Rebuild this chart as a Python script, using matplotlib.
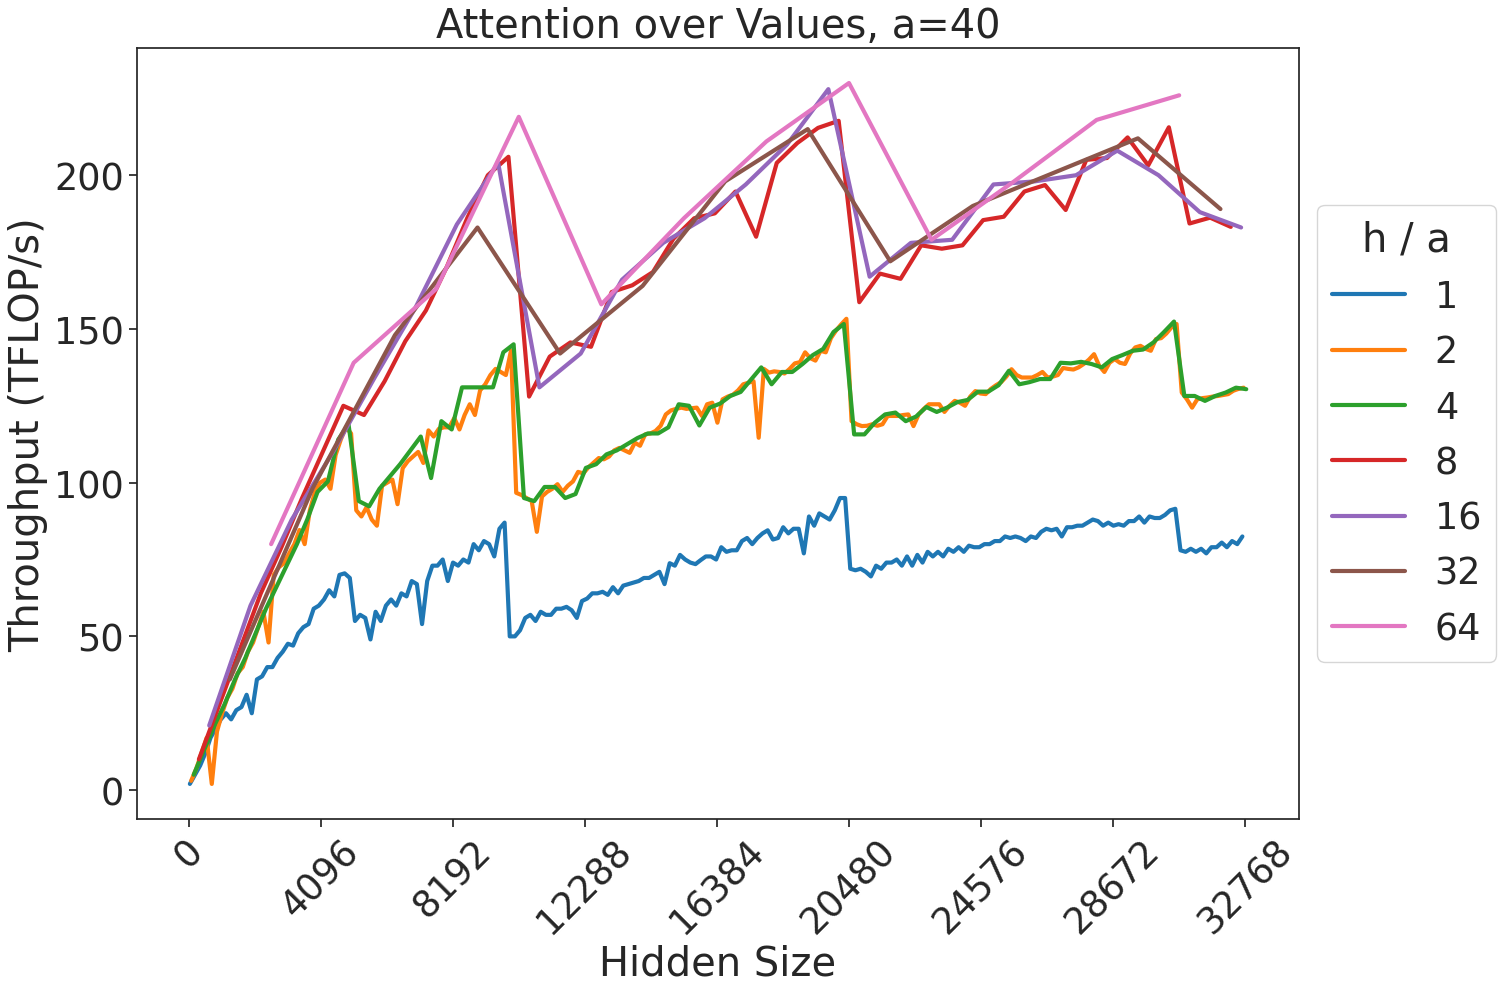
import numpy as np
import matplotlib
matplotlib.use("Agg")
import matplotlib.pyplot as plt
import seaborn as sns

# ---------------------------------------------------------------- data
# hidden sizes per series (h / a = odd multiple of the series value, a = 40)
h1 = np.arange(40, 32768, 160)      # every second point of the dense series
h2 = np.arange(80, 32768, 160)
h4 = np.arange(160, 32801, 320)
h8 = np.arange(320, 32801, 640)
h16 = np.arange(640, 32801, 1280)
h32 = np.arange(1280, 32801, 2560)
h64 = np.arange(2560, 32801, 2560)

# throughput in TFLOP/s
tp1 = [2, 5, 8, 12, 17, 20, 23, 25, 23, 26,
       27, 31, 25, 36, 37, 40, 40, 43, 45, 47.6,
       47, 51, 53, 54, 59, 60, 62, 65, 63, 70,
       70.5, 69, 55, 57, 56, 49, 58, 55, 60, 62,
       60, 64, 63, 68, 67, 54, 68, 73, 73, 75,
       68, 74, 73, 75, 74, 80, 78, 81, 80, 76,
       85, 87, 50, 50, 52, 56, 57, 55, 58, 57,
       57, 59, 59, 59.6, 58.5, 56, 61.5, 62.3, 64, 64,
       64.5, 63.5, 66, 64, 66.5, 67, 67.5, 68, 69, 69,
       70, 71, 67, 73.8, 73, 76.5, 75, 74, 73.5, 74.8,
       76, 76, 75, 79, 77.5, 78, 78, 81, 82, 80,
       82, 83.5, 84.5, 81.5, 82, 85.5, 83.5, 85, 85, 77,
       89, 86, 90, 89, 88, 91, 95, 95, 72, 71.5,
       72, 71, 69.5, 73, 72, 74, 74, 75, 73, 76,
       73, 76.5, 74, 77.5, 76, 77.5, 76, 78.5, 77.5, 79,
       77.5, 79.5, 79, 79, 80, 80, 81, 81, 82.5, 82,
       82.5, 82, 81, 82.5, 82, 84, 85, 84.5, 85, 82.5,
       85.5, 85.5, 86, 86, 87, 88, 87.5, 86, 87, 86,
       86.5, 86, 87.5, 87.5, 89, 87, 89, 88.5, 88.5, 89.5,
       91, 91.5, 78, 77.5, 78.5, 77.5, 78.5, 77, 79, 79,
       80.5, 79, 81, 80, 82.5]

tp2 = [3, 7, 12, 17, 2, 19, 25, 30, 33, 38,
       40, 45, 48, 53, 58, 48, 70, 72.5, 73.8, 77,
       80, 84.6, 80, 91, 97, 100, 101, 98, 109, 114,
       118, 116, 91, 89, 92, 88, 86, 99, 100, 101,
       93, 104.7, 107, 108.5, 110, 106.4, 117, 115, 117.5, 118,
       118, 121, 117.3, 122, 125.5, 122, 130, 132, 135, 137,
       136, 135, 143, 96.7, 96, 95, 94, 84, 95.5, 97,
       98, 99.5, 97, 99, 100.4, 103.5, 103, 105, 106.5, 108,
       107.6, 108.5, 110.5, 111.3, 110.5, 109.7, 113, 112, 115.7, 116,
       116.8, 118.5, 122.2, 123.5, 124, 124.4, 124, 124.2, 124.4, 121.7,
       125.5, 126, 119.5, 127.1, 128, 128.6, 130, 132, 132.5, 133,
       114.6, 137, 135.8, 136.2, 136, 135.5, 137, 138.8, 139.2, 142.4,
       140.5, 139.7, 142.9, 142.4, 147, 149.5, 151.5, 153.3, 120, 119,
       118.4, 118.5, 119, 118.5, 119, 121.7, 121.7, 121.7, 122, 122.2,
       118.4, 122.2, 124, 125.5, 125.5, 125.5, 123, 125, 126.6, 126,
       125, 128, 129.8, 129, 128.8, 130.5, 131.7, 132.7, 134.5, 136.9,
       135, 134.2, 134.2, 134.2, 135, 136, 134.2, 134.5, 135, 137.3,
       137, 136.8, 137.5, 138.6, 140, 141.8, 138, 136, 139, 140.2,
       139, 138.6, 142, 144, 144.5, 143.5, 142.9, 146.7, 147, 148.5,
       150.5, 151.6, 129.3, 127.1, 124.4, 127.1, 127.5, 127.7, 128, 128.2,
       128.5, 128.8, 129.9, 130.5, 130.9]

tp4 = [5, 13, 21, 28, 36, 43, 51, 59, 66, 73,
       80, 88, 97, 100.4, 114, 119, 94, 92.3, 98, 102,
       106, 110.5, 115, 101.5, 120, 117.3, 131, 131, 131, 131,
       142.4, 145, 95, 94, 98.6, 98.6, 95, 96.3, 104.8, 106,
       109.2, 110.5, 112.5, 114.5, 116, 116, 118, 125.5, 125, 118.6,
       124.4, 125.7, 128.2, 129.5, 133.5, 137.5, 132, 136, 136, 138.6,
       141.5, 143.5, 149, 151.6, 115.7, 115.7, 119.5, 122.2, 122.8, 120,
       121.5, 124.6, 123, 124.4, 126.2, 126.9, 129.6, 129.6, 131.7, 136.4,
       132, 132.7, 133.7, 133.7, 139, 138.8, 139.3, 138.6, 137.5, 140.2,
       141.5, 142.9, 143.3, 145.6, 148.9, 152.4, 128.2, 128.2, 126.6, 128.2,
       129.3, 130.9, 130.4]

tp8 = [10, 28, 46, 64, 79, 95, 110, 125, 122, 133,
       146, 156, 170, 186, 200, 206, 128, 141, 145.6, 144.2,
       162, 164.2, 168.5, 179.4, 186, 187.6, 194.7, 180, 204, 210.5,
       215.4, 217.7, 158.7, 168, 166.3, 177.2, 176.1, 177.2, 185.4, 186.5,
       194.7, 196.8, 188.7, 205, 205.6, 212.3, 203.2, 215.6, 184.3, 186.2,
       183.2]

tp16 = [21, 60, 88, 110, 134, 157, 184, 204, 131, 142,
        166, 178, 186, 197, 210, 228, 167, 178, 179, 197,
        198, 200, 208, 200, 188, 183]

tp32 = [36, 98, 148, 183, 142, 164, 198, 215, 172, 190, 201, 212, 189]

tp64 = [80, 139, 163, 219, 158, 186, 211, 230, 179, 198, 218, 226]

series = [("1", h1, tp1), ("2", h2, tp2), ("4", h4, tp4), ("8", h8, tp8),
          ("16", h16, tp16), ("32", h32, tp32), ("64", h64, tp64)]

# ---------------------------------------------------------------- plot
sns.set_theme(style="ticks", font_scale=2.4, palette="tab10")
plt.rcParams['font.family'] = ['DejaVu Sans']

fig, ax = plt.subplots(figsize=(15.06, 9.95), dpi=100)
fig.subplots_adjust(left=0.091, right=0.8626, top=0.9508, bottom=0.1759)

for name, hs, tp in series:
    ax.plot(hs, tp, label=name, linewidth=3)

ax.set_xticks(np.arange(0, 32769, 4096))
ax.set_yticks([0, 50, 100, 150, 200])
plt.setp(ax.get_xticklabels(), rotation=45)
ax.set_title("Attention over Values, a=40", pad=8)
ax.set_xlabel("Hidden Size", labelpad=2)
ax.set_ylabel("Throughput (TFLOP/s)")
ax.legend(title="h / a", loc="center left", bbox_to_anchor=(1.0, 0.5))

fig.savefig("out.png", dpi=100)
